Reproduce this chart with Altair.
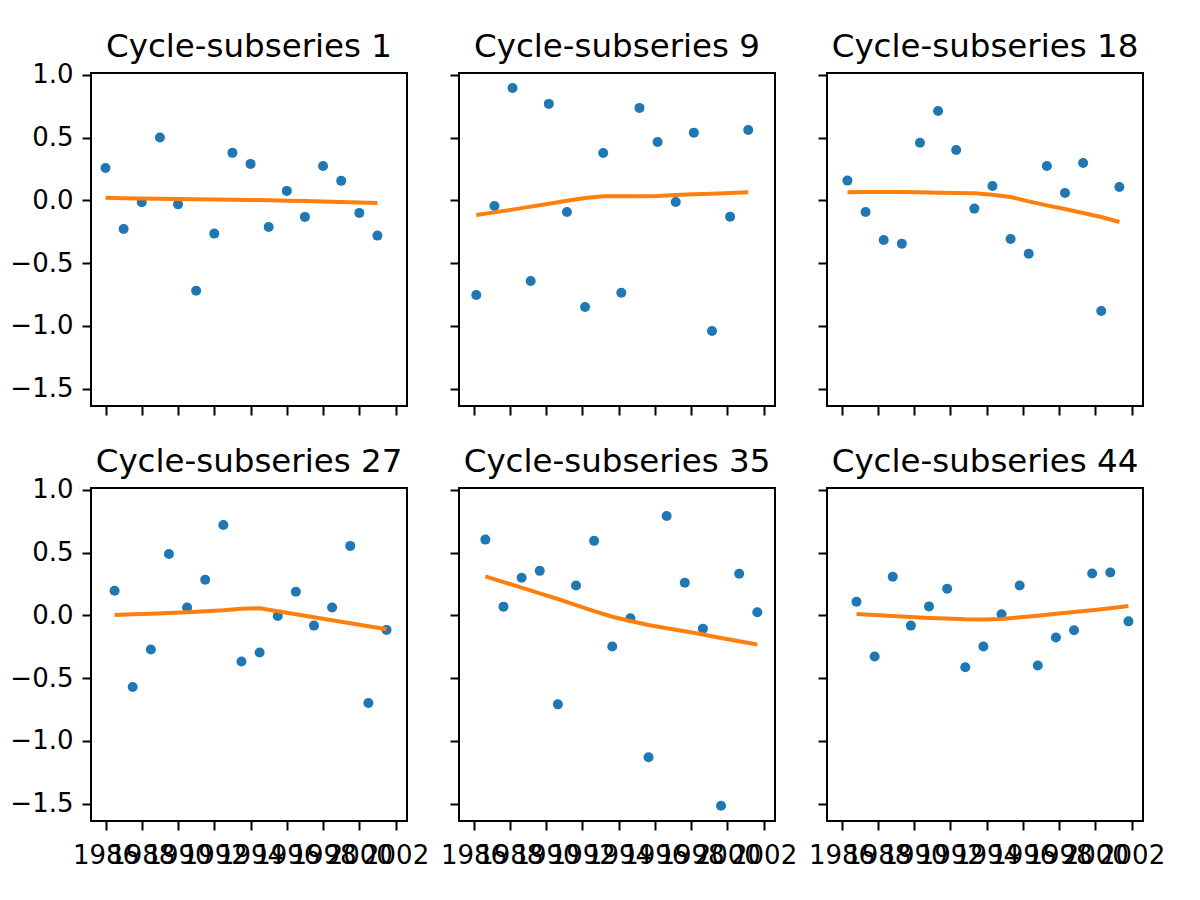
import altair as alt
import pandas as pd

years = list(range(1986, 2002))
subseries = [1, 9, 18, 27, 35, 44]

obs = {
    1: [0.258, -0.228, -0.016, 0.500, -0.032, -0.720, -0.265, 0.378, 0.290, -0.212, 0.075, -0.132, 0.274, 0.155, -0.100, -0.281],
    9: [-0.754, -0.045, 0.895, -0.643, 0.768, -0.093, -0.850, 0.377, -0.736, 0.736, 0.465, -0.013, 0.539, -1.041, -0.130, 0.560],
    18: [0.157, -0.093, -0.316, -0.345, 0.459, 0.712, 0.401, -0.066, 0.114, -0.308, -0.425, 0.274, 0.058, 0.297, -0.882, 0.106],
    27: [0.196, -0.571, -0.272, 0.489, 0.063, 0.283, 0.720, -0.368, -0.296, -0.005, 0.188, -0.082, 0.063, 0.553, -0.698, -0.116],
    35: [0.603, 0.069, 0.299, 0.354, -0.709, 0.238, 0.593, -0.249, -0.024, -1.130, 0.791, 0.259, -0.106, -1.516, 0.331, 0.024],
    44: [0.108, -0.328, 0.307, -0.082, 0.071, 0.212, -0.413, -0.249, 0.008, 0.238, -0.399, -0.177, -0.119, 0.333, 0.341, -0.048],
}

trend = {
    1: [0.020, 0.017, 0.014, 0.012, 0.010, 0.008, 0.006, 0.004, 0.002, 0.000, -0.003, -0.006, -0.010, -0.014, -0.018, -0.022],
    9: [-0.117, -0.096, -0.074, -0.050, -0.027, -0.003, 0.019, 0.032, 0.032, 0.032, 0.035, 0.042, 0.048, 0.053, 0.058, 0.064],
    18: [0.064, 0.066, 0.066, 0.066, 0.064, 0.061, 0.058, 0.056, 0.045, 0.027, -0.008, -0.040, -0.069, -0.101, -0.133, -0.173],
    27: [0.003, 0.008, 0.013, 0.019, 0.024, 0.032, 0.040, 0.053, 0.056, 0.032, 0.008, -0.016, -0.040, -0.063, -0.087, -0.111],
    35: [0.310, 0.265, 0.220, 0.175, 0.130, 0.082, 0.034, -0.011, -0.045, -0.077, -0.103, -0.127, -0.153, -0.180, -0.206, -0.233],
    44: [0.011, 0.003, -0.005, -0.013, -0.021, -0.026, -0.032, -0.034, -0.029, -0.016, -0.003, 0.013, 0.026, 0.040, 0.056, 0.074],
}

titles = [f"Cycle-subseries {k}" for k in subseries]

x_ticks = [1986, 1988, 1990, 1992, 1994, 1996, 1998, 2000, 2002]
y_ticks = [-1.5, -1.0, -0.5, 0.0, 0.5, 1.0]
x_domain = [1985.2, 2002.63]
y_domain = [-1.638, 1.014]

W, H = 316, 333
FONT = "DejaVu Sans"


def make_axis(vals, fmt, show, pad):
    return alt.Axis(values=vals, format=fmt, labels=show, labelOverlap=False,
                    labelFlush=False, title=None, grid=False, domain=False,
                    tickSize=9, tickWidth=2, tickColor="black", labelPadding=pad,
                    labelFontSize=26, labelFont=FONT, labelColor="black")


def panel(k, idx):
    row, col = divmod(idx, 3)
    df = pd.DataFrame({
        "t": [y + (k - 1) / 52 for y in years],
        "obs": obs[k],
        "trend": trend[k],
    })
    xs = alt.X("t:Q", scale=alt.Scale(domain=x_domain, nice=False, zero=False),
               axis=make_axis(x_ticks, "d", row == 1, 12))
    yscale = alt.Scale(domain=y_domain, nice=False, zero=False)
    pts = alt.Chart(df).mark_circle(size=100, opacity=1, color="#1f77b4").encode(
        x=xs, y=alt.Y("obs:Q", scale=yscale, axis=make_axis(y_ticks, ".1f", col == 0, 9)))
    ln = alt.Chart(df).mark_line(strokeWidth=4, color="#ff7f0e").encode(
        x=xs, y=alt.Y("trend:Q", scale=yscale, axis=make_axis(y_ticks, ".1f", col == 0, 9)))
    ttl = alt.Chart(pd.DataFrame({"label": [titles[idx]]})).mark_text(
        font=FONT, fontSize=32.5, color="black", align="center", baseline="alphabetic"
    ).encode(text="label:N", x=alt.value(W / 2), y=alt.value(-16))
    return alt.layer(pts, ln, ttl).properties(width=W, height=H)


panels = [panel(k, i) for i, k in enumerate(subseries)]
chart = alt.concat(*panels, columns=3, spacing={"row": 82, "column": 52},
                   bounds="flush").configure_view(
    stroke="black", strokeWidth=2
).properties(padding={"left": 0, "top": 22, "right": 5, "bottom": 5})

chart.save("out.html", embed_options={"renderer": "svg", "actions": False})
